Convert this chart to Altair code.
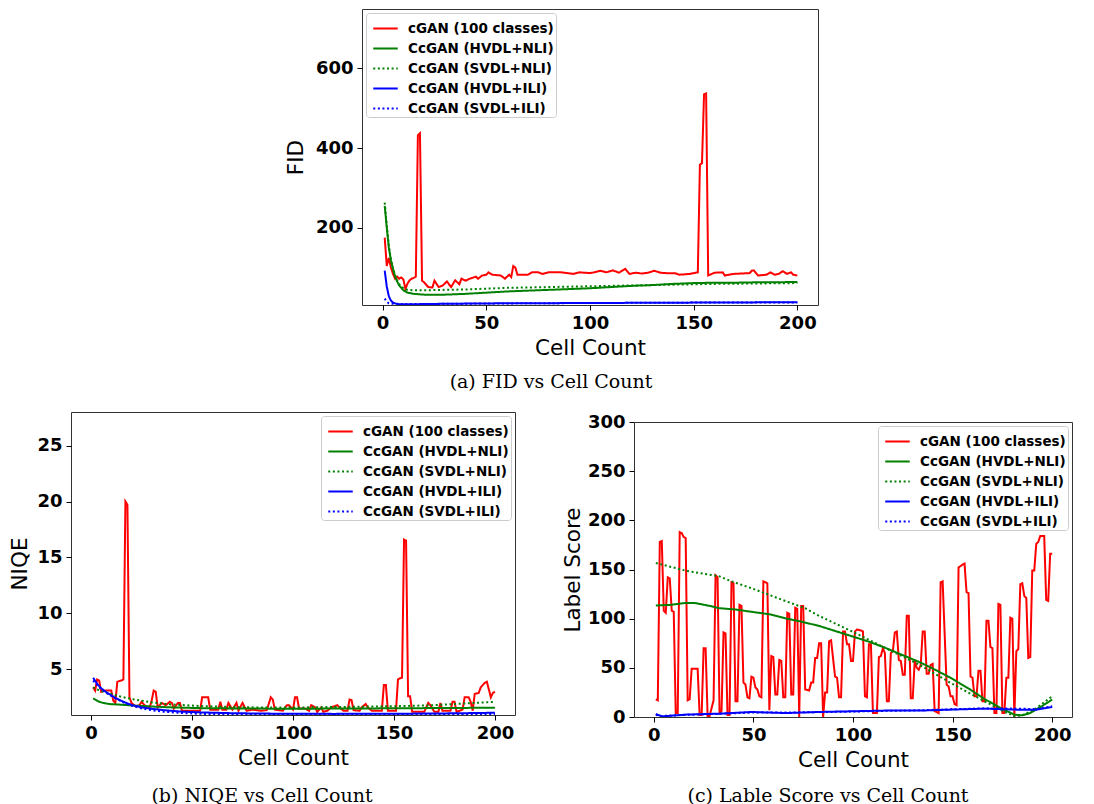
import altair as alt
import pandas as pd

SERIES = ["cGAN (100 classes)", "CcGAN (HVDL+NLI)", "CcGAN (SVDL+NLI)",
          "CcGAN (HVDL+ILI)", "CcGAN (SVDL+ILI)"]
COLORS = ["#ff0000", "#008000", "#008000", "#0000ff", "#0000ff"]
DASHES = [[1, 0], [1, 0], [2, 2.6], [1, 0], [2, 2.6]]
X_TICKS = [0, 50, 100, 150, 200]

# ---------------- FID (x = cell count, y = value) ----------------
FID_CGAN = [(1,175),(2,104),(3,124),(4,100),(5,84),(6,72),(7,77),(8,72),(9,75),(10,70),
            (11,46),(12,60),(13,68),(14,72),(15,74),(16,77),(17,432),(18,437),(19,67),(20,63),
            (22,51),(24,50),(25,67),(27,51),(29,55),(31,65),(33,51),(35,68),(37,58),(38,72),
            (40,67),(42,72),(45,77),(46,72),(48,80),(50,82),(51,88),(53,82),(57,80),(59,72),
            (61,82),(62,76),(63,104),(64,100),(65,82),(70,82),(72,88),(75,88),(77,84),(80,88),
            (86,88),(92,84),(95,88),(100,86),(102,88),(105,92),(108,88),(111,93),(114,87),(117,97),
            (119,84),(122,87),(125,85),(128,87),(131,92),(134,87),(137,86),(141,86),(143,82),(148,84),
            (151,87),(152,88),(153,358),(154,362),(155,535),(156,537),(157,80),(160,87),(164,88),(165,80),
            (169,84),(177,86),(178,92),(179,93),(181,80),(185,82),(187,88),(189,82),(191,84),(193,91),
            (195,84),(197,88),(198,82),(200,80)]
FID_HVDL_NLI = [(1,255),(2,200),(3,150),(4,118),(5,97),(6,78),(7,65),(8,55),(10,43),(12,37),
                (15,34),(20,32),(25,32),(30,32),(40,34),(50,37),(60,40),(70,42),(80,44),(90,46),
                (100,48),(110,51),(120,54),(130,56),(140,59),(150,61),(160,62),(170,62),(180,63),
                (190,63),(200,64)]
FID_SVDL_NLI = [(1,263),(2,205),(3,155),(4,120),(5,97),(6,80),(7,68),(8,58),(10,48),(12,44),
                (15,43),(20,43),(30,44),(40,45),(50,47),(60,49),(80,51),(100,53),(120,55),(140,57),
                (160,59),(180,60),(200,61)]
FID_HVDL_ILI = [(1,92),(2,52),(3,28),(4,17),(5,12),(6,10),(8,8),(15,8),(30,9),(50,10),
                (100,11),(150,12),(200,13)]
FID_SVDL_ILI = [(1,22),(2,14),(3,10),(5,9),(10,8),(30,9),(60,10),(100,11),(150,12),(200,12)]

# ---------------- NIQE ----------------
NIQE_CGAN = [(1,3.4),(2,3.1),(3,4.1),(4,4.0),(5,3.0),(7,3.1),(10,3.1),(11,2.2),(12,2.0),(13,3.9),
             (15,4.0),(16,4.1),(17,20.0),(18,19.7),(19,2.5),(20,2.0),(22,1.7),(24,1.8),(25,2.1),(27,1.7),
             (29,1.6),(30,2.2),(31,3.1),(32,3.0),(33,1.6),(35,2.0),(37,1.8),(39,2.1),(40,2.0),(41,1.5),
             (43,2.0),(44,2.0),(45,1.3),(48,1.3),(51,1.3),(54,1.3),(55,2.5),(58,2.5),(59,1.4),(63,1.4),
             (64,2.1),(65,1.4),(67,1.4),(68,2.0),(70,1.4),(72,2.0),(73,1.3),(75,2.0),(77,1.3),(80,1.4),
             (84,1.3),(87,1.35),(89,2.5),(90,2.3),(91,1.4),(95,1.3),(97,1.8),(98,1.8),(100,1.4),(101,2.5),
             (102,2.5),(103,1.5),(106,1.5),(108,1.3),(109,1.8),(111,1.6),(112,1.2),(114,1.6),(115,1.2),(117,1.3),
             (119,1.6),(122,1.8),(123,1.6),(125,1.3),(127,1.3),(128,2.3),(129,2.25),(130,1.35),(133,1.3),(134,1.6),
             (136,1.9),(137,1.6),(139,1.3),(144,1.3),(145,3.6),(146,3.6),(147,1.3),(151,1.3),(152,4.1),(153,4.2),
             (154,4.25),(155,16.6),(156,16.5),(157,2.6),(158,2.6),(159,1.2),(165,1.2),(167,2.0),(168,1.8),(170,1.2),
             (172,1.2),(173,2.0),(174,1.3),(178,1.3),(179,2.1),(180,2.1),(181,1.2),(184,1.4),(185,2.5),(187,2.5),
             (188,2.1),(189,1.3),(190,2.8),(192,2.9),(193,3.4),(195,3.8),(196,3.9),(197,3.2),(198,2.5),(199,2.9),
             (200,3.0)]
NIQE_HVDL_NLI = [(1,2.4),(2,2.3),(4,2.1),(6,2.0),(9,1.9),(14,1.85),(20,1.78),(30,1.68),(40,1.6),
                 (55,1.53),(75,1.5),(100,1.48),(130,1.5),(160,1.53),(200,1.57)]
NIQE_SVDL_NLI = [(1,3.4),(3,3.2),(6,3.0),(10,2.8),(15,2.55),(21,2.32),(30,2.05),(38,1.88),(54,1.72),
                 (70,1.63),(87,1.58),(105,1.6),(120,1.63),(140,1.68),(155,1.72),(170,1.8),(185,1.95),(200,2.1)]
NIQE_HVDL_ILI = [(1,4.25),(3,3.7),(5,3.3),(8,2.9),(12,2.45),(16,2.1),(20,1.82),(25,1.6),(30,1.48),
                 (36,1.35),(45,1.22),(55,1.15),(70,1.08),(90,1.04),(120,1.02),(150,1.03),(180,1.07),(200,1.12)]
NIQE_SVDL_ILI = [(1,4.0),(3,3.6),(5,3.25),(8,2.85),(12,2.4),(16,2.05),(20,1.75),(25,1.5),(30,1.35),
                 (36,1.22),(45,1.1),(55,1.02),(70,0.98),(100,0.96),(150,0.97),(200,1.0)]

# ---------------- Label Score ----------------
LS_CGAN = [(1,18),(2,17),(3,178),(4,179),(5,108),(6,106),(7,142),(8,141),(9,108),(10,107),
           (11,4),(12,4),(13,188),(14,187),(15,183),(16,182),(17,17),(18,18),(19,49),(22,49),
           (23,2),(24,2),(25,70),(26,70),(27,1),(28,1),(30,17),(31,144),(32,142),(33,4),
           (34,6),(35,86),(36,85),(37,2),(38,2),(39,137),(40,136),(41,16),(42,16),(43,114),
           (44,113),(45,35),(46,33),(47,20),(48,19),(49,41),(50,40),(51,30),(52,28),(53,21),
           (54,20),(55,138),(56,137),(57,136),(58,7),(59,62),(60,61),(61,23),(62,23),(63,58),
           (64,57),(65,20),(66,20),(67,106),(68,105),(69,23),(70,23),(71,111),(72,110),(73,0),
           (74,113),(75,113),(76,28),(78,27),(79,35),(80,35),(81,60),(82,60),(83,75),(84,75),
           (85,0),(86,25),(87,25),(88,77),(89,78),(91,41),(92,40),(93,20),(94,20),(95,87),
           (96,87),(97,74),(98,74),(99,57),(100,57),(101,87),(102,89),(104,88),(105,87),(106,21),
           (107,20),(108,74),(109,74),(110,4),(112,4),(113,61),(114,62),(115,70),(116,65),(117,16),
           (118,16),(119,65),(120,67),(121,86),(122,87),(123,58),(124,57),(125,43),(126,43),(127,103),
           (128,103),(129,19),(130,19),(131,58),(132,50),(133,48),(134,53),(135,87),(136,87),(137,44),
           (138,44),(139,53),(140,54),(141,6),(143,4),(144,137),(145,138),(147,33),(148,31),(149,21),
           (150,21),(151,13),(152,12),(153,152),(155,155),(156,156),(157,127),(158,126),(159,41),(160,40),
           (161,21),(162,21),(163,47),(164,47),(165,16),(166,16),(167,98),(168,98),(169,71),(170,70),
           (171,4),(172,4),(173,115),(174,114),(175,4),(176,4),(177,40),(178,40),(179,101),(180,100),
           (181,0),(182,67),(183,69),(184,135),(185,136),(186,123),(187,121),(188,60),(189,61),(190,149),
           (191,149),(192,176),(193,178),(194,184),(196,184),(197,119),(198,118),(199,166),(200,166)]
LS_HVDL_NLI = [(1,113.4),(8,114),(16,116),(21,115.8),(28,113),(33,110.6),(41,109.3),(49,107),
               (58,104.5),(66,100.4),(74,97),(83,92.6),(91,87.5),(99,82.4),(108,76.6),(116,70.5),
               (124,63.7),(133,56.2),(141,48.3),(149,39.8),(158,29),(166,18.4),(174,9.2),(181,2.4),
               (185,1.7),(189,4),(194,10),(200,17.7)]
LS_SVDL_NLI = [(1,156.6),(16,148.8),(33,143),(39,138),(49,131),(66,118),(76,110.6),(83,102.8),
               (99,87.5),(116,70.5),(133,53.5),(149,34.7),(166,16),(174,7.5),(181,0.7),(185,1.7),
               (191,7.5),(200,21)]
LS_HVDL_ILI = [(1,3),(4,0.7),(10,1.5),(16,2.4),(33,3.4),(49,5.1),(66,4),(83,5.1),(99,5.8),
               (116,6.5),(133,6.5),(149,7.5),(166,8.5),(182,7.5),(192,7.5),(200,10.2)]
LS_SVDL_ILI = [(1,2),(4,1),(16,2.2),(33,3.2),(49,4.5),(66,4.5),(83,5),(99,5.5),(116,6.2),
               (133,6.8),(149,7.8),(166,8.8),(182,8.5),(192,8),(200,11)]

FONT = "DejaVu Sans"


def long_table(series_points):
    rows = []
    for name, pts in zip(SERIES, series_points):
        for xv, yv in pts:
            rows.append({"series": name, "count": xv, "value": yv})
    return pd.DataFrame(rows)


def panel(df, ytitle, ydom, yticks, w, h, lorient, caption, cap_dx, cap_offset, ytp):
    legend = alt.Legend(title=None, orient=lorient, offset=4, symbolType="stroke",
                        symbolSize=600, symbolStrokeWidth=2, labelFont=FONT,
                        labelFontSize=13.5, labelFontWeight="bold", labelColor="black",
                        strokeColor="#cccccc", fillColor="rgba(255,255,255,0.85)",
                        padding=2, cornerRadius=3, rowPadding=-4, labelOffset=9,
                        symbolOffset=4, labelLimit=400)
    color = alt.Color("series:N", scale=alt.Scale(domain=SERIES, range=COLORS), legend=legend)
    dash = alt.StrokeDash("series:N", scale=alt.Scale(domain=SERIES, range=DASHES), legend=legend)
    ax = dict(grid=False, domain=False, tickSize=5, tickWidth=1, tickColor="black",
              labelFont=FONT, labelFontSize=18, labelFontWeight="bold", labelColor="black",
              titleFont=FONT, titleFontSize=21.5, titleFontWeight="normal", titleColor="black")
    x = alt.X("count:Q", scale=alt.Scale(domain=[-9.95, 209.95], nice=False, zero=False),
              axis=alt.Axis(values=X_TICKS, title="Cell Count", labelPadding=4, titlePadding=5, **ax))
    y = alt.Y("value:Q", scale=alt.Scale(domain=ydom, nice=False, zero=False),
              axis=alt.Axis(values=yticks, title=ytitle, labelPadding=4, titlePadding=ytp, **ax))
    layers = [
        alt.Chart(df).transform_filter(alt.datum.series == s)
        .mark_line(strokeWidth=2, clip=True)
        .encode(x=x, y=y, color=color, strokeDash=dash)
        for s in SERIES
    ]
    return alt.layer(*layers).properties(
        width=w, height=h,
        title=alt.TitleParams(text=caption, orient="bottom", anchor="middle", frame="group",
                              font="DejaVu Serif", fontSize=19, fontWeight="normal",
                              color="black", offset=cap_offset, dx=cap_dx))


def spacer(w, h):
    return alt.Chart(pd.DataFrame({"v": [0]})).mark_point(opacity=0).encode(
        x=alt.X("v:Q", axis=None), y=alt.Y("v:Q", axis=None)
    ).properties(width=w, height=h, view=alt.ViewBackground(stroke="transparent"))


fid = panel(long_table([FID_CGAN, FID_HVDL_NLI, FID_SVDL_NLI, FID_HVDL_ILI, FID_SVDL_ILI]),
            "FID", [6, 749], [200, 400, 600], 456, 296, "top-left",
            "(a) FID vs Cell Count", -39, 14, 8)
niqe = panel(long_table([NIQE_CGAN, NIQE_HVDL_NLI, NIQE_SVDL_NLI, NIQE_HVDL_ILI, NIQE_SVDL_ILI]),
             "NIQE", [0.92, 28.0], [5, 10, 15, 20, 25], 444, 303, "top-right",
             "(b) NIQE vs Cell Count", -31, 18, 5)
ls = panel(long_table([LS_CGAN, LS_HVDL_NLI, LS_SVDL_NLI, LS_HVDL_ILI, LS_SVDL_ILI]),
           "Label Score", [0, 300], [0, 50, 100, 150, 200, 250, 300], 438, 295, "top-right",
           "(c) Lable Score vs Cell Count", -25, 16, 3)

IND = dict(color="independent", strokeDash="independent")

top_row = alt.hconcat(spacer(212, 10), fid, spacing=0).resolve_scale(**IND).resolve_legend(**IND)
ls_col = alt.vconcat(spacer(10, 1), ls, spacing=-4).resolve_scale(**IND).resolve_legend(**IND)
bottom_row = alt.hconcat(niqe, ls_col, spacing=45).resolve_scale(**IND).resolve_legend(**IND)

chart = alt.vconcat(top_row, bottom_row, spacing=17).resolve_scale(**IND).resolve_legend(**IND).properties(
    padding={"left": 1, "top": 0, "right": 5, "bottom": 2}
).configure_view(stroke="#333333", strokeWidth=1)

chart.save("out.html", embed_options={"renderer": "svg", "actions": False})
